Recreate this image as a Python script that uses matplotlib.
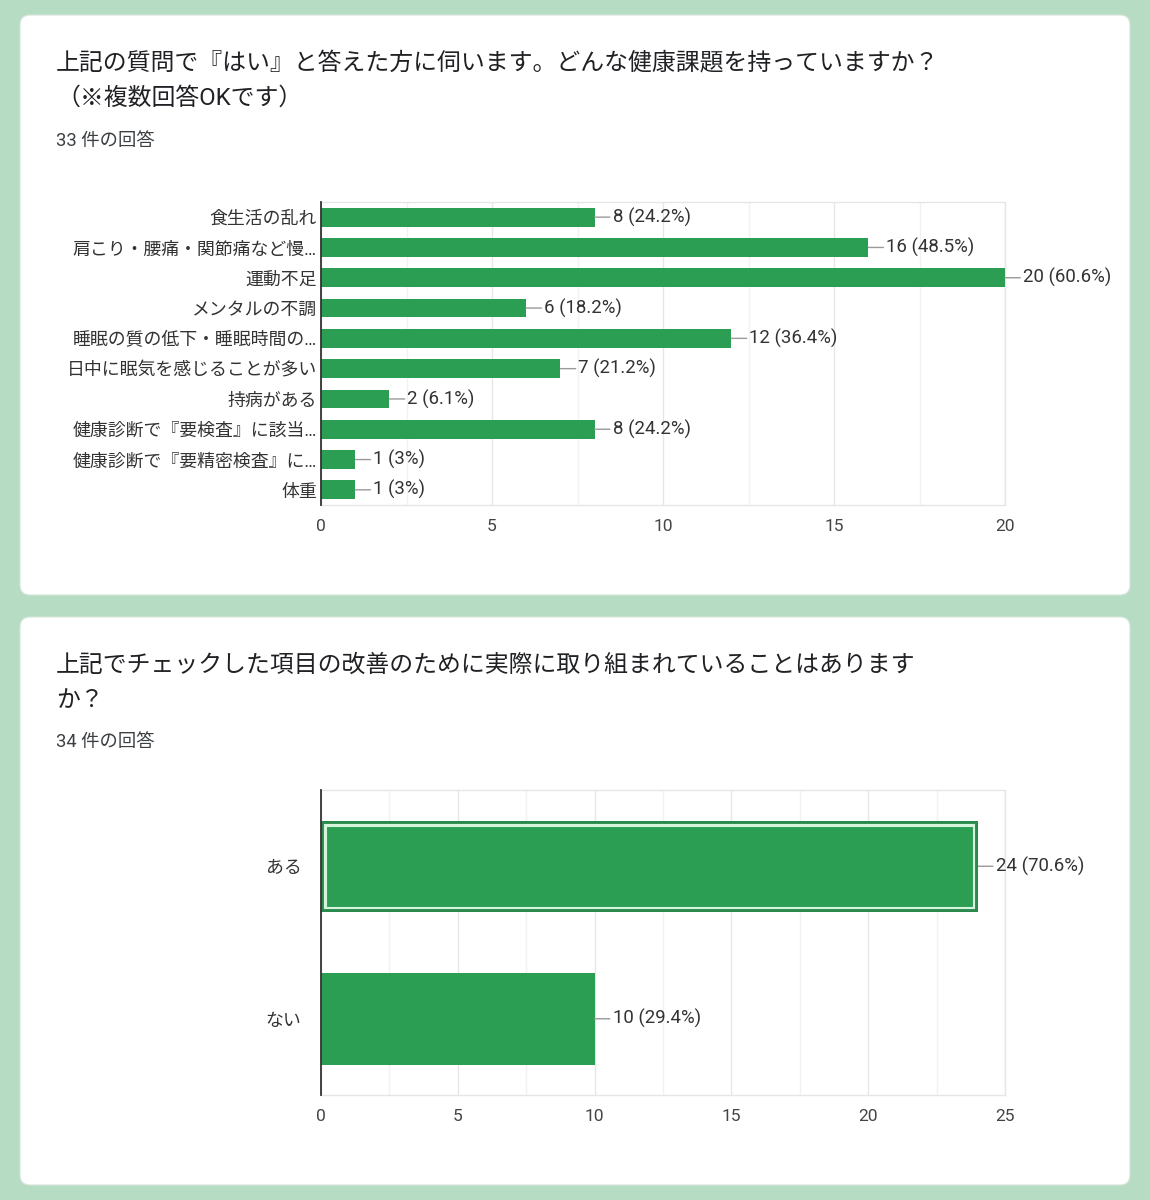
import matplotlib
matplotlib.use("Agg")
import matplotlib.pyplot as plt
from matplotlib.patches import FancyBboxPatch
from matplotlib.ticker import MultipleLocator

plt.rcParams['font.family'] = ['Roboto', 'Noto Sans CJK JP', 'DejaVu Sans']

# ---------------- data ----------------
title1 = "上記の質問で『はい』と答えた方に伺います。どんな健康課題を持っていますか？\n（※複数回答OKです）"
count1 = "33 件の回答"
cats1 = ["食生活の乱れ", "肩こり・腰痛・関節痛など慢…", "運動不足", "メンタルの不調",
         "睡眠の質の低下・睡眠時間の…", "日中に眠気を感じることが多い", "持病がある",
         "健康診断で『要検査』に該当…", "健康診断で『要精密検査』に…", "体重"]
vals1 = [8, 16, 20, 6, 12, 7, 2, 8, 1, 1]
pcts1 = ["24.2%", "48.5%", "60.6%", "18.2%", "36.4%", "21.2%", "6.1%", "24.2%", "3%", "3%"]
xticks1 = [0, 5, 10, 15, 20]

title2 = "上記でチェックした項目の改善のために実際に取り組まれていることはあります\nか？"
count2 = "34 件の回答"
cats2 = ["ある", "ない"]
vals2 = [24, 10]
pcts2 = ["70.6%", "29.4%"]
xticks2 = [0, 5, 10, 15, 20, 25]
highlight2 = 0  # index of the highlighted bar in chart 2

# ---------------- style ----------------
W, H = 1150, 1200
BG = "#b6dcc4"
GREEN = "#2b9e53"
DARK_GREEN = "#2a8a4c"
LIGHT = "#d4f5dc"
TXT = "#202124"
LBL = "#333333"

fig = plt.figure(figsize=(W / 100, H / 100), dpi=100)
fig.patch.set_facecolor(BG)


def px_rect(x0, y0, x1, y1):
    return [x0 / W, 1 - y1 / H, (x1 - x0) / W, (y1 - y0) / H]


def card(x0, y0, x1, y1):
    r = 10
    p = FancyBboxPatch((x0 / W, 1 - y1 / H), (x1 - x0) / W, (y1 - y0) / H,
                       boxstyle=f"round,pad=0,rounding_size={r / W}",
                       transform=fig.transFigure, facecolor="white",
                       edgecolor="#d5e6da", linewidth=0.8, zorder=-5,
                       mutation_aspect=W / H)
    fig.patches.append(p)


card(20, 15, 1130, 595)
card(20, 617, 1130, 1185)


def ftext(x, y, s, size, color=TXT, **kw):
    fig.text(x / W, 1 - y / H, s, fontsize=size, color=color, va="center",
             ha="left", **kw)


# titles
ftext(56, 81, title1, 17.2, linespacing=1.62)
ftext(56, 141, count1, 13.2, color="#3c4043")
ftext(56, 683, title2, 17.2, linespacing=1.72)
ftext(56, 742, count2, 13.2, color="#3c4043")


def style_axes(ax, xmax, xticks, ypad):
    ax.set_xlim(0, xmax)
    ax.set_xticks(xticks)
    ax.xaxis.set_minor_locator(MultipleLocator(2.5))
    ax.grid(axis="x", which="major", color="#e6e6e6", lw=1, zorder=0)
    ax.grid(axis="x", which="minor", color="#f2f2f2", lw=1, zorder=0)
    ax.set_axisbelow(True)
    ax.tick_params(axis="both", which="both", length=0)
    ax.tick_params(axis="x", labelsize=12.5, labelcolor="#444444", pad=10)
    ax.tick_params(axis="y", labelsize=12.9, labelcolor=LBL, pad=ypad)
    for s in ["top", "bottom", "right"]:
        ax.spines[s].set_color("#e6e6e6")
        ax.spines[s].set_linewidth(1)
    ax.spines["left"].set_color("#333333")
    ax.spines["left"].set_linewidth(1.3)
    ax.spines["left"].set_zorder(6)


def annotate_bars(ax, vals, pcts):
    for i, (v, p) in enumerate(zip(vals, pcts)):
        ax.annotate(f"{v} ({p})", xy=(v, i), xytext=(13, 0),
                    textcoords="offset points", va="center", ha="left",
                    fontsize=13.4, color=LBL,
                    arrowprops=dict(arrowstyle="-", color="#9a9a9a", lw=1,
                                    shrinkA=0, shrinkB=0))


# ---------------- chart 1 ----------------
ax1 = fig.add_axes(px_rect(321, 202, 1005, 505))
ax1.barh(range(len(cats1)), vals1, height=0.62, color=GREEN, zorder=3)
ax1.set_ylim(len(cats1) - 0.5, -0.5)
ax1.set_yticks(range(len(cats1)))
ax1.set_yticklabels(cats1)
style_axes(ax1, 20, xticks1, 3)
annotate_bars(ax1, vals1, pcts1)

# ---------------- chart 2 ----------------
ax2 = fig.add_axes(px_rect(321, 790, 1005, 1095))
ax2.barh(range(len(cats2)), vals2, height=0.6, color=GREEN, zorder=3)
# highlight outline (inner light line + dark outer border), clipped inside bar
for lw, col, z in [(8.0, LIGHT, 4), (4.2, DARK_GREEN, 5)]:
    ob = ax2.barh([highlight2], [vals2[highlight2]], height=0.6, fill=False,
                  edgecolor=col, linewidth=lw, zorder=z)[0]
    ob.set_clip_path(ob)
ax2.set_ylim(len(cats2) - 0.5, -0.5)
ax2.set_yticks(range(len(cats2)))
ax2.set_yticklabels(cats2)
style_axes(ax2, 25, xticks2, 14)
annotate_bars(ax2, vals2, pcts2)

fig.savefig("out.png", dpi=100, facecolor=BG)
